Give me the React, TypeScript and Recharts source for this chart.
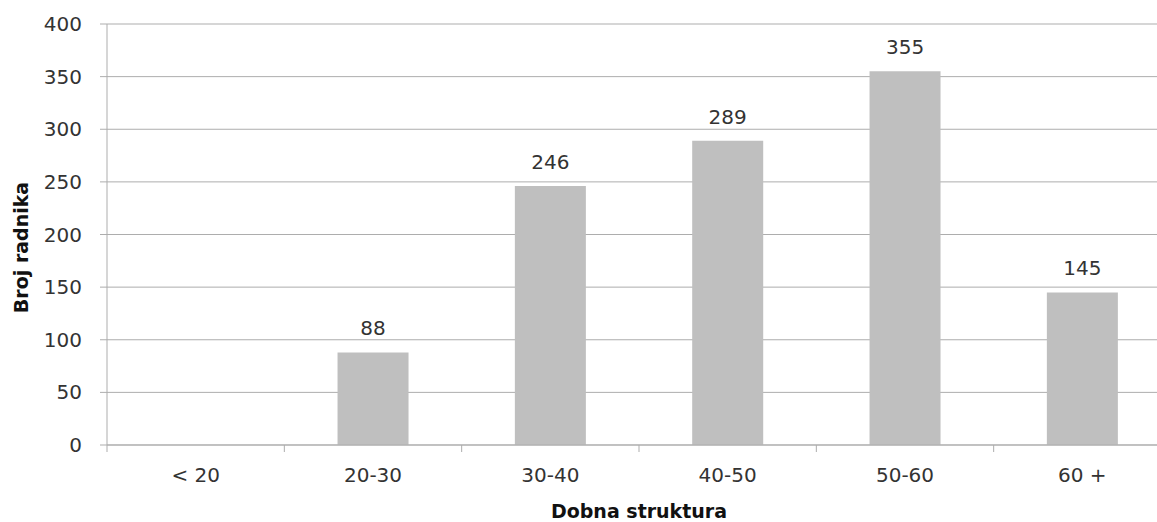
import { Bar, BarChart, CartesianGrid, LabelList, XAxis, YAxis } from "recharts";

const categories = ["< 20", "20-30", "30-40", "40-50", "50-60", "60 +"];
const workers = [null, 88, 246, 289, 355, 145];
const yTicks = [0, 50, 100, 150, 200, 250, 300, 350, 400];

const data = categories.map((name, i) => ({ name, value: workers[i] }));

const FONT = "'DejaVu Sans', sans-serif";
const GRID = "#ADADAD";
const TEXT = "#333333";

const CategoryTick = (props: any) => {
  const { x, y, payload, index, visibleTicksCount } = props;
  const half = payload.offset || 0;
  const top = y - 22;
  return (
    <g>
      <line x1={x - half} x2={x - half} y1={top} y2={top + 7} stroke={GRID} />
      {index === visibleTicksCount - 1 && (
        <line x1={x + half} x2={x + half} y1={top} y2={top + 7} stroke={GRID} />
      )}
      <text x={x} y={y + 15} textAnchor="middle" fontSize={20} fontFamily={FONT} fill={TEXT}>
        {payload.value}
      </text>
    </g>
  );
};

const XTitle = (props: any) => {
  const { viewBox } = props;
  return (
    <text
      x={viewBox.x + viewBox.width / 2}
      y={viewBox.y + viewBox.height - 4}
      textAnchor="middle"
      fontSize={19}
      fontWeight="bold"
      fontFamily={FONT}
      fill="#111"
    >
      Dobna struktura
    </text>
  );
};

const YTitle = (props: any) => {
  const { viewBox } = props;
  const cx = 28;
  const cy = viewBox.y + viewBox.height / 2 + 13;
  return (
    <text
      x={cx}
      y={cy}
      transform={`rotate(-90 ${cx} ${cy})`}
      textAnchor="middle"
      fontSize={19}
      fontWeight="bold"
      fontFamily={FONT}
      fill="#111"
    >
      Broj radnika
    </text>
  );
};

export default function App() {
  return (
    <div
      style={{
        position: "absolute",
        left: 0,
        top: 0,
        width: 1157,
        height: 522,
        overflow: "hidden",
        background: "#fff",
      }}
    >
      <BarChart
        width={1180}
        height={522}
        data={data}
        margin={{ top: 24, right: 9, left: 0, bottom: 0 }}
        barCategoryGap="30%"
      >
        <CartesianGrid vertical={false} stroke={GRID} />
        <XAxis
          dataKey="name"
          height={77}
          axisLine={{ stroke: GRID }}
          tickLine={false}
          tickSize={7}
          tickMargin={15}
          tick={<CategoryTick />}
          interval={0}
          label={<XTitle />}
        />
        <YAxis
          width={107}
          domain={[0, 400]}
          ticks={yTicks}
          interval={0}
          axisLine={{ stroke: GRID }}
          tickLine={{ stroke: GRID }}
          tickSize={7}
          tickMargin={18}
          tick={{ fontSize: 20, fontFamily: FONT, fill: TEXT }}
          label={<YTitle />}
        />
        <Bar dataKey="value" fill="#BFBFBF" isAnimationActive={false}>
          <LabelList
            dataKey="value"
            position="top"
            offset={17}
            fontSize={20}
            fontFamily={FONT}
            fill={TEXT}
          />
        </Bar>
      </BarChart>
    </div>
  );
}
